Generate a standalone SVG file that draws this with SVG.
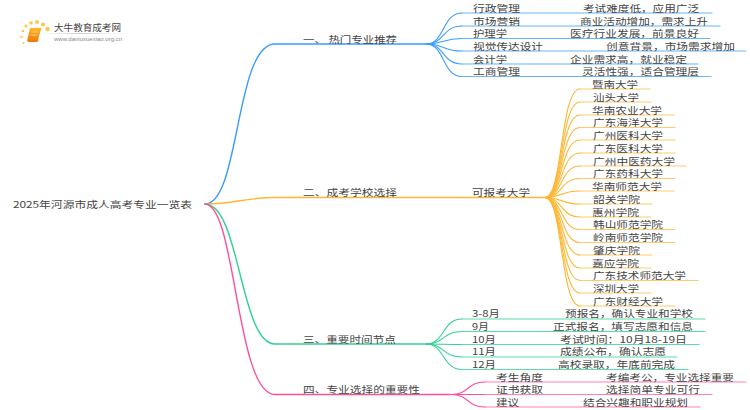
<svg xmlns="http://www.w3.org/2000/svg" width="750" height="410" viewBox="0 0 750 410">
<defs>
<style>
text{font-family:"Noto Sans CJK SC","Liberation Sans",sans-serif;font-size:9.2px;fill:#444}
path{fill:none;stroke-linecap:round}
.b{stroke:#3b9dff}.o{stroke:#ffb733}.g{stroke:#34d193}.p{stroke:#ff4f9c}
.t{stroke-width:1.4}.l{stroke-width:1.1}
.bl{stroke:#66b5ff;stroke-width:1.2}.ol{stroke:#ffcb6b;stroke-width:1.2}.gl{stroke:#5cdcaa;stroke-width:1.2}.pl{stroke:#ff7fb8;stroke-width:1.2}
</style>
<linearGradient id="bk" x1="0" y1="0" x2="0" y2="1"><stop offset="0" stop-color="#ffb52a"/><stop offset="1" stop-color="#ee7d0c"/></linearGradient>
<linearGradient id="rule" x1="0" y1="0" x2="1" y2="0"><stop offset="0" stop-color="#ddd" stop-opacity="0.2"/><stop offset="0.4" stop-color="#ccc"/><stop offset="1" stop-color="#eee" stop-opacity="0"/></linearGradient>
</defs>
<rect width="750" height="410" fill="#fff"/>
<g id="logo">
<g fill="#ffc64a"><circle cx="37" cy="22" r="2"/><circle cx="31" cy="23" r="1.8"/><circle cx="26" cy="26" r="1.5"/><circle cx="23" cy="31" r="1.3"/><circle cx="21.500" cy="37" r="1.1"/><circle cx="23.500" cy="43" r="1"/><circle cx="43" cy="24.500" r="2"/><circle cx="47.500" cy="29" r="2.200"/></g>
<path d="M30 28h11.500l-4 13h-10.500z" style="fill:url(#bk)"/>
<path d="M28.500 41.500h8.500l1-1.500" style="stroke:#e87a0a;stroke-width:1.2"/>
<path d="M32 32h6M31 35h6" style="stroke:#ffe2a6;stroke-width:0.7"/>
<text x="54" y="30.500" textLength="67" lengthAdjust="spacingAndGlyphs" style="font-size:9px">大牛教育成考网</text>
<rect x="44" y="33" width="90" height="1" fill="url(#rule)"/>
<text x="54" y="41" textLength="68" lengthAdjust="spacingAndGlyphs" style="font-size:5.500px;fill:#888;font-family:'Liberation Sans',sans-serif">www.daniuxuexiao.org.cn</text>
</g>
<g id="connectors">
<path class="b t" d="M205 204C240 204 235 44 275 44H425"/>
<path class="o t" d="M205 204C235 204 245 197.500 275 197.500H545"/>
<path class="g t" d="M205 204C240 204 240 344 275 344H425"/>
<path class="p t" d="M205 204C236 204 236 394.500 275 394.500H450"/>
<g class="b l">
<path d="M426 44C445 44 442 13 462 13"/><path d="M426 44C445 44 442 26 462 26"/><path d="M426 44C445 44 442 38.500 462 38.500"/><path d="M426 44C445 44 442 51 462 51"/><path d="M426 44C445 44 442 64 462 64"/><path d="M426 44C445 44 442 76.500 462 76.500"/>
</g>
<path class="bl" d="M462 13H712M462 26H720M462 38.500H710M462 51H746M462 64H698M462 76.500H711"/>
<g class="o l">
<path d="M545 197.500C563 197.500 560 89 580 89"/><path d="M545 197.500C563 197.500 560 102 580 102"/><path d="M545 197.500C563 197.500 560 115 580 115"/><path d="M545 197.500C563 197.500 560 127.500 580 127.500"/><path d="M545 197.500C563 197.500 560 140 580 140"/><path d="M545 197.500C563 197.500 560 153 580 153"/><path d="M545 197.500C563 197.500 560 166 580 166"/><path d="M545 197.500C563 197.500 560 178.500 580 178.500"/><path d="M545 197.500C563 197.500 560 191 580 191"/><path d="M545 197.500C563 197.500 560 204 580 204"/><path d="M545 197.500C563 197.500 560 217 580 217"/><path d="M545 197.500C563 197.500 560 229.500 580 229.500"/><path d="M545 197.500C563 197.500 560 242.500 580 242.500"/><path d="M545 197.500C563 197.500 560 255 580 255"/><path d="M545 197.500C563 197.500 560 268 580 268"/><path d="M545 197.500C563 197.500 560 280.500 580 280.500"/><path d="M545 197.500C563 197.500 560 293 580 293"/><path d="M545 197.500C563 197.500 560 306 580 306"/>
</g>
<path class="ol" d="M580 89H650M580 102H651M580 115H674M580 127.500H675M580 140H675M580 153H675M580 166H686M580 178.500H675M580 191H674M580 204H652M580 217H651M580 229.500H675M580 242.500H675M580 255H652M580 268H651M580 280.500H698M580 293H651M580 306H675"/>
<g class="g l">
<path d="M426 344C445 344 442 319 462 319"/><path d="M426 344C445 344 442 331.500 462 331.500"/><path d="M426 344C445 344 442 344.500 462 344.500"/><path d="M426 344C445 344 442 357 462 357"/><path d="M426 344C445 344 442 369.500 462 369.500"/>
</g>
<path class="gl" d="M462 319H705M462 331.500H705M462 344.500H699M462 357H677M462 369.500H688"/>
<g class="p l">
<path d="M451 394.500C470 394.500 466 382 485 382"/><path d="M451 394.500H485"/><path d="M451 394.500C470 394.500 466 407 485 407"/>
</g>
<path class="pl" d="M485 382H746M485 394.500H712M485 407H700"/>
</g>
<g id="root"><text x="13" y="207.500" textLength="179" lengthAdjust="spacingAndGlyphs">2025年河源市成人高考专业一览表</text></g>
<g id="n1"><text x="303" y="43" textLength="94" lengthAdjust="spacingAndGlyphs">一、 热门专业推荐</text></g>
<g id="n2"><text x="303" y="196" textLength="94" lengthAdjust="spacingAndGlyphs">二、成考学校选择</text></g>
<g id="n3"><text x="303" y="343" textLength="93" lengthAdjust="spacingAndGlyphs">三、重要时间节点</text></g>
<g id="n4"><text x="303" y="393" textLength="117" lengthAdjust="spacingAndGlyphs">四、专业选择的重要性</text></g>
<g id="n1a"><text x="473" y="11.500" textLength="47" lengthAdjust="spacingAndGlyphs">行政管理</text><text x="583" y="11.500" textLength="116" lengthAdjust="spacingAndGlyphs">考试难度低，应用广泛</text></g>
<g id="n1b"><text x="473" y="24.500" textLength="47" lengthAdjust="spacingAndGlyphs">市场营销</text><text x="580" y="24.500" textLength="128" lengthAdjust="spacingAndGlyphs">商业活动增加，需求上升</text></g>
<g id="n1c"><text x="473" y="37" textLength="34" lengthAdjust="spacingAndGlyphs">护理学</text><text x="570" y="37" textLength="129" lengthAdjust="spacingAndGlyphs">医疗行业发展，前景良好</text></g>
<g id="n1d"><text x="473" y="49.500" textLength="70" lengthAdjust="spacingAndGlyphs">视觉传达设计</text><text x="606" y="49.500" textLength="129" lengthAdjust="spacingAndGlyphs">创意背景，市场需求增加</text></g>
<g id="n1e"><text x="473" y="62.500" textLength="34" lengthAdjust="spacingAndGlyphs">会计学</text><text x="570" y="62.500" textLength="117" lengthAdjust="spacingAndGlyphs">企业需求高，就业稳定</text></g>
<g id="n1f"><text x="473" y="75" textLength="47" lengthAdjust="spacingAndGlyphs">工商管理</text><text x="582" y="75" textLength="117" lengthAdjust="spacingAndGlyphs">灵活性强，适合管理层</text></g>
<g id="n2a"><text x="472" y="196" textLength="58" lengthAdjust="spacingAndGlyphs">可报考大学</text></g>
<g id="s1"><text x="592" y="87.500" textLength="46" lengthAdjust="spacingAndGlyphs">暨南大学</text></g>
<g id="s2"><text x="593" y="100.500" textLength="46" lengthAdjust="spacingAndGlyphs">汕头大学</text></g>
<g id="s3"><text x="592" y="113.500" textLength="70" lengthAdjust="spacingAndGlyphs">华南农业大学</text></g>
<g id="s4"><text x="593" y="126" textLength="70" lengthAdjust="spacingAndGlyphs">广东海洋大学</text></g>
<g id="s5"><text x="593" y="138.500" textLength="70" lengthAdjust="spacingAndGlyphs">广州医科大学</text></g>
<g id="s6"><text x="593" y="151.500" textLength="70" lengthAdjust="spacingAndGlyphs">广东医科大学</text></g>
<g id="s7"><text x="593" y="164.500" textLength="82" lengthAdjust="spacingAndGlyphs">广州中医药大学</text></g>
<g id="s8"><text x="593" y="177" textLength="70" lengthAdjust="spacingAndGlyphs">广东药科大学</text></g>
<g id="s9"><text x="592" y="189.500" textLength="70" lengthAdjust="spacingAndGlyphs">华南师范大学</text></g>
<g id="s10"><text x="593" y="202.500" textLength="47" lengthAdjust="spacingAndGlyphs">韶关学院</text></g>
<g id="s11"><text x="592" y="215.500" textLength="47" lengthAdjust="spacingAndGlyphs">惠州学院</text></g>
<g id="s12"><text x="593" y="228" textLength="70" lengthAdjust="spacingAndGlyphs">韩山师范学院</text></g>
<g id="s13"><text x="593" y="240.500" textLength="70" lengthAdjust="spacingAndGlyphs">岭南师范学院</text></g>
<g id="s14"><text x="593" y="253.500" textLength="47" lengthAdjust="spacingAndGlyphs">肇庆学院</text></g>
<g id="s15"><text x="592" y="266.500" textLength="47" lengthAdjust="spacingAndGlyphs">嘉应学院</text></g>
<g id="s16"><text x="593" y="279" textLength="93" lengthAdjust="spacingAndGlyphs">广东技术师范大学</text></g>
<g id="s17"><text x="593" y="291.500" textLength="46" lengthAdjust="spacingAndGlyphs">深圳大学</text></g>
<g id="s18"><text x="593" y="304.500" textLength="70" lengthAdjust="spacingAndGlyphs">广东财经大学</text></g>
<g id="n3a"><text x="472" y="317" textLength="28" lengthAdjust="spacingAndGlyphs">3-8月</text><text x="565" y="317" textLength="128" lengthAdjust="spacingAndGlyphs">预报名，确认专业和学校</text></g>
<g id="n3b"><text x="472" y="330" textLength="17" lengthAdjust="spacingAndGlyphs">9月</text><text x="553" y="330" textLength="140" lengthAdjust="spacingAndGlyphs">正式报名，填写志愿和信息</text></g>
<g id="n3c"><text x="472" y="342.500" textLength="24" lengthAdjust="spacingAndGlyphs">10月</text><text x="560" y="342.500" textLength="127" lengthAdjust="spacingAndGlyphs">考试时间：10月18-19日</text></g>
<g id="n3d"><text x="472" y="355" textLength="24" lengthAdjust="spacingAndGlyphs">11月</text><text x="560" y="355" textLength="106" lengthAdjust="spacingAndGlyphs">成绩公布，确认志愿</text></g>
<g id="n3e"><text x="472" y="368" textLength="24" lengthAdjust="spacingAndGlyphs">12月</text><text x="558" y="368" textLength="117" lengthAdjust="spacingAndGlyphs">高校录取，年底前完成</text></g>
<g id="n4a"><text x="496" y="380.500" textLength="47" lengthAdjust="spacingAndGlyphs">考生角度</text><text x="606" y="380.500" textLength="128" lengthAdjust="spacingAndGlyphs">考编考公，专业选择重要</text></g>
<g id="n4b"><text x="496" y="393" textLength="47" lengthAdjust="spacingAndGlyphs">证书获取</text><text x="606" y="393" textLength="94" lengthAdjust="spacingAndGlyphs">选择简单专业可行</text></g>
<g id="n4c"><text x="496" y="405.500" textLength="23" lengthAdjust="spacingAndGlyphs">建议</text><text x="583" y="405.500" textLength="105" lengthAdjust="spacingAndGlyphs">结合兴趣和职业规划</text></g>
</svg>
